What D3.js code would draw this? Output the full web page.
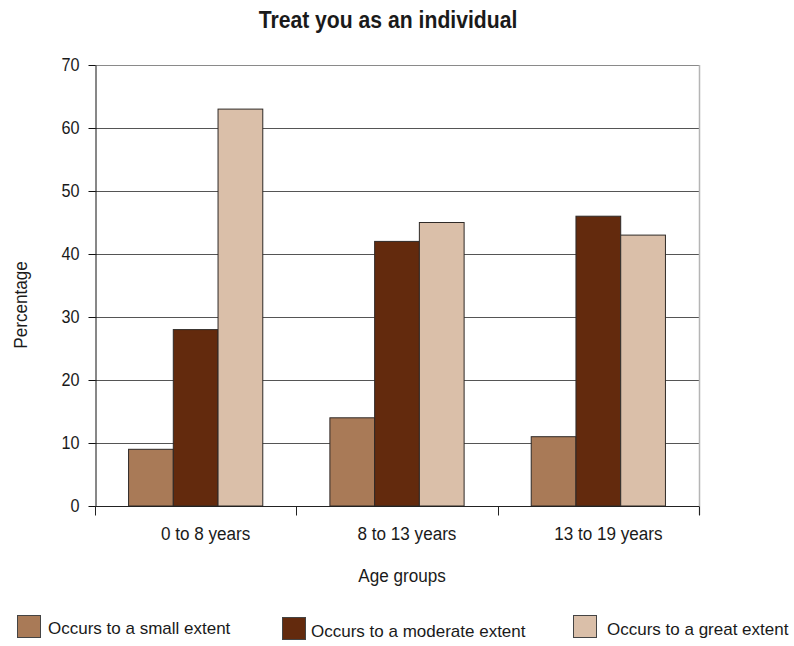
<!DOCTYPE html>
<html>
<head>
<meta charset="utf-8">
<script src="https://cdn.jsdelivr.net/npm/d3@7"></script>
<style>
  html, body { margin: 0; padding: 0; background: #fff; }
  svg { display: block; font-family: "Liberation Sans", Arial, sans-serif; }
</style>
</head>
<body>
<svg id="chart" width="794" height="646"></svg>
<script>
// Survey responses by age group (percent)
const categories = ["0 to 8 years", "8 to 13 years", "13 to 19 years"];
const seriesNames = ["Occurs to a small extent", "Occurs to a moderate extent", "Occurs to a great extent"];
const smallExtent = [9, 14, 11];
const moderateExtent = [28, 42, 46];
const greatExtent = [63, 45, 43];
const yTicks = [0, 10, 20, 30, 40, 50, 60, 70];
const colors = ["#a97a57", "#632a0d", "#dabfa9"];

const seriesValues = [smallExtent, moderateExtent, greatExtent];

const svg = d3.select("#chart");
const plot = { left: 95, right: 699, top: 65, bottom: 506 };
const FONT = 18;
const SQUEEZE = 0.95; // narrow the glyphs horizontally

// Condense a text node horizontally by a factor, keeping its anchor.
function squeeze(sel, factor) {
  sel.each(function () {
    const w = this.getComputedTextLength();
    d3.select(this).attr("textLength", w * factor).attr("lengthAdjust", "spacingAndGlyphs");
  });
}

const y = d3.scaleLinear().domain([0, 70]).range([plot.bottom, plot.top]);
const x0 = d3.scaleBand().domain(categories).range([plot.left, plot.right]).padding(0);
const groupInset = x0.bandwidth() / 6;
const x1 = d3.scaleBand().domain(d3.range(seriesNames.length))
  .range([groupInset, x0.bandwidth() - groupInset]).padding(0);

// Title
svg.append("text")
  .attr("x", 388).attr("y", 28)
  .attr("text-anchor", "middle")
  .attr("font-size", 23).attr("font-weight", "bold")
  .attr("fill", "#1a1a1a")
  .text("Treat you as an individual")
  .call(squeeze, 0.92);

// Horizontal gridlines
svg.append("g")
  .selectAll("line")
  .data(yTicks.filter(d => d > 0))
  .join("line")
  .attr("x1", plot.left).attr("x2", plot.right)
  .attr("y1", d => Math.round(y(d)) + 0.5).attr("y2", d => Math.round(y(d)) + 0.5)
  .attr("stroke", d => d === 70 ? "#8a8a8a" : "#555")
  .attr("stroke-width", 1);

// Right border of the plot area
svg.append("line")
  .attr("x1", plot.right + 0.5).attr("x2", plot.right + 0.5)
  .attr("y1", plot.top).attr("y2", plot.bottom + 9)
  .attr("stroke", "#b5b5b5").attr("stroke-width", 1.5);

// Bars
const groups = svg.append("g")
  .selectAll("g")
  .data(categories)
  .join("g")
  .attr("transform", d => `translate(${x0(d)},0)`);

groups.selectAll("rect")
  .data((d, i) => seriesValues.map((vals, s) => ({ s, v: vals[i] })))
  .join("rect")
  .attr("x", d => x1(d.s))
  .attr("y", d => y(d.v))
  .attr("width", x1.bandwidth())
  .attr("height", d => y(0) - y(d.v))
  .attr("fill", d => colors[d.s])
  .attr("stroke", "#2f2a27")
  .attr("stroke-width", 1);

// Y axis
const yAxis = svg.append("g")
  .attr("transform", `translate(${plot.left + 0.5},0)`)
  .call(d3.axisLeft(y).tickValues(yTicks).tickSize(7).tickPadding(9).tickSizeOuter(0));
yAxis.select(".domain").attr("stroke", "#111");
yAxis.selectAll(".tick line").attr("stroke", "#111");
yAxis.selectAll(".tick text")
  .attr("font-size", FONT).attr("fill", "#1a1a1a")
  .attr("font-family", "Liberation Sans, Arial, sans-serif")
  .call(squeeze, 0.9);

// X axis: ticks sit on the category boundaries
const xAxisG = svg.append("g")
  .attr("transform", `translate(0,${plot.bottom + 0.5})`);
xAxisG.append("line")
  .attr("x1", plot.left).attr("x2", plot.right)
  .attr("stroke", "#222").attr("stroke-width", 1);
const boundaries = categories.map(c => x0(c)).concat([x0(categories[categories.length - 1]) + x0.bandwidth()]);
xAxisG.selectAll("line.tk")
  .data(boundaries)
  .join("line")
  .attr("class", "tk")
  .attr("x1", d => Math.round(d) + 0.5).attr("x2", d => Math.round(d) + 0.5)
  .attr("y1", 0).attr("y2", 9)
  .attr("stroke", "#222");
xAxisG.selectAll("text")
  .data(categories)
  .join("text")
  .attr("x", d => x0(d) + x0.bandwidth() / 2 + 10)
  .attr("y", 33)
  .attr("text-anchor", "middle")
  .attr("font-size", FONT).attr("fill", "#1a1a1a")
  .text(d => d)
  .call(squeeze, SQUEEZE);

// Axis titles
svg.append("text")
  .attr("x", 402).attr("y", 582)
  .attr("text-anchor", "middle")
  .attr("font-size", FONT).attr("fill", "#1a1a1a")
  .text("Age groups")
  .call(squeeze, SQUEEZE);
svg.append("text")
  .attr("transform", "translate(27,305) rotate(-90)")
  .attr("text-anchor", "middle")
  .attr("font-size", FONT).attr("fill", "#1a1a1a")
  .text("Percentage")
  .call(squeeze, SQUEEZE);

// Legend
const legendPos = [
  { x: 17, y: 615, tx: 48, ty: 634 },
  { x: 282, y: 617, tx: 311, ty: 637 },
  { x: 573, y: 615, tx: 607, ty: 635 }
];
const legend = svg.append("g")
  .selectAll("g")
  .data(seriesNames)
  .join("g");
legend.append("rect")
  .attr("x", (d, i) => legendPos[i].x + 0.5)
  .attr("y", (d, i) => legendPos[i].y + 0.5)
  .attr("width", 23).attr("height", 22)
  .attr("fill", (d, i) => colors[i])
  .attr("stroke", "#444").attr("stroke-width", 1);
legend.append("text")
  .attr("x", (d, i) => legendPos[i].tx)
  .attr("y", (d, i) => legendPos[i].ty)
  .attr("font-size", 17).attr("fill", "#1a1a1a")
  .text(d => d);
</script>
</body>
</html>
